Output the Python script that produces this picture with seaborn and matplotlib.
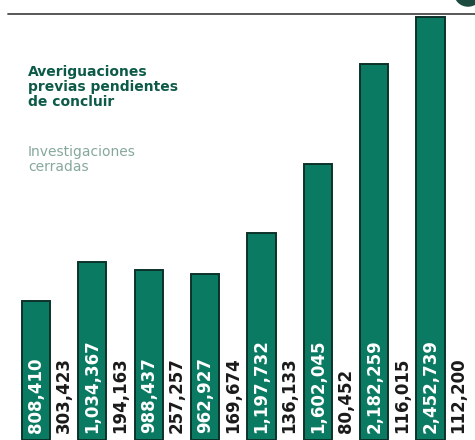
import matplotlib
matplotlib.use("Agg")
import matplotlib.pyplot as plt
import seaborn as sns
import pandas as pd
from matplotlib.patches import Circle
from matplotlib.lines import Line2D

# Datos
periodos = ["1", "2", "3", "4", "5", "6", "7", "8"]
pendientes = [808410, 1034367, 988437, 962927, 1197732, 1602045, 2182259, 2452739]
cerradas = [303423, 194163, 257257, 169674, 136133, 80452, 116015, 112200]

VERDE = "#0b7a62"
BORDE = "#0b3229"
TEXTO_VERDE = "#0d5a48"
TEXTO_GRIS = "#86a89c"

df = pd.DataFrame({"periodo": periodos, "pendientes": pendientes, "cerradas": cerradas})

sns.set_theme(style="white")
plt.rcParams["font.family"] = ["DejaVu Sans"]

fig = plt.figure(figsize=(4.75, 4.4), dpi=100)
ax = fig.add_axes([0, 0, 1, 1])

sns.barplot(data=df, x="periodo", y="pendientes", order=periodos, color=VERDE,
            saturation=1, width=0.5, edgecolor=BORDE, linewidth=1.4, ax=ax)

ax.set_xlim(-0.639, 7.79)
ax.set_ylim(0, max(pendientes) * 440 / 423)
ax.axis("off")

# etiquetas dentro de las barras y valores de investigaciones cerradas
for i, (p, c) in enumerate(zip(pendientes, cerradas)):
    ax.text(i, max(pendientes) * 0.016, f"{p:,}", rotation=90, ha="center", va="bottom",
            color="white", fontsize=12, fontweight="bold")
    ax.text(i + 0.5, max(pendientes) * 0.016, f"{c:,}", rotation=90, ha="center", va="bottom",
            color="#1a1a1a", fontsize=12, fontweight="bold")

# leyenda
fig.text(28 / 475, 1 - 65 / 440, "Averiguaciones\nprevias pendientes\nde concluir",
         ha="left", va="top", color=TEXTO_VERDE, fontsize=10, fontweight="bold",
         linespacing=1.1)
fig.text(28 / 475, 1 - 145 / 440, "Investigaciones\ncerradas",
         ha="left", va="top", color=TEXTO_GRIS, fontsize=10, linespacing=1.1)

# linea superior y circulo recortado
fig.add_artist(Line2D([8 / 475, 1], [1 - 14 / 440, 1 - 14 / 440], color="#4a4a4a",
                      linewidth=1.3, transform=fig.transFigure))
fig.add_artist(Circle((468 / 475, 1 + 6 / 440), 13 / 475, color="#1d4a3f",
                      transform=fig.transFigure, clip_on=False))

fig.savefig("out.png", dpi=100)
